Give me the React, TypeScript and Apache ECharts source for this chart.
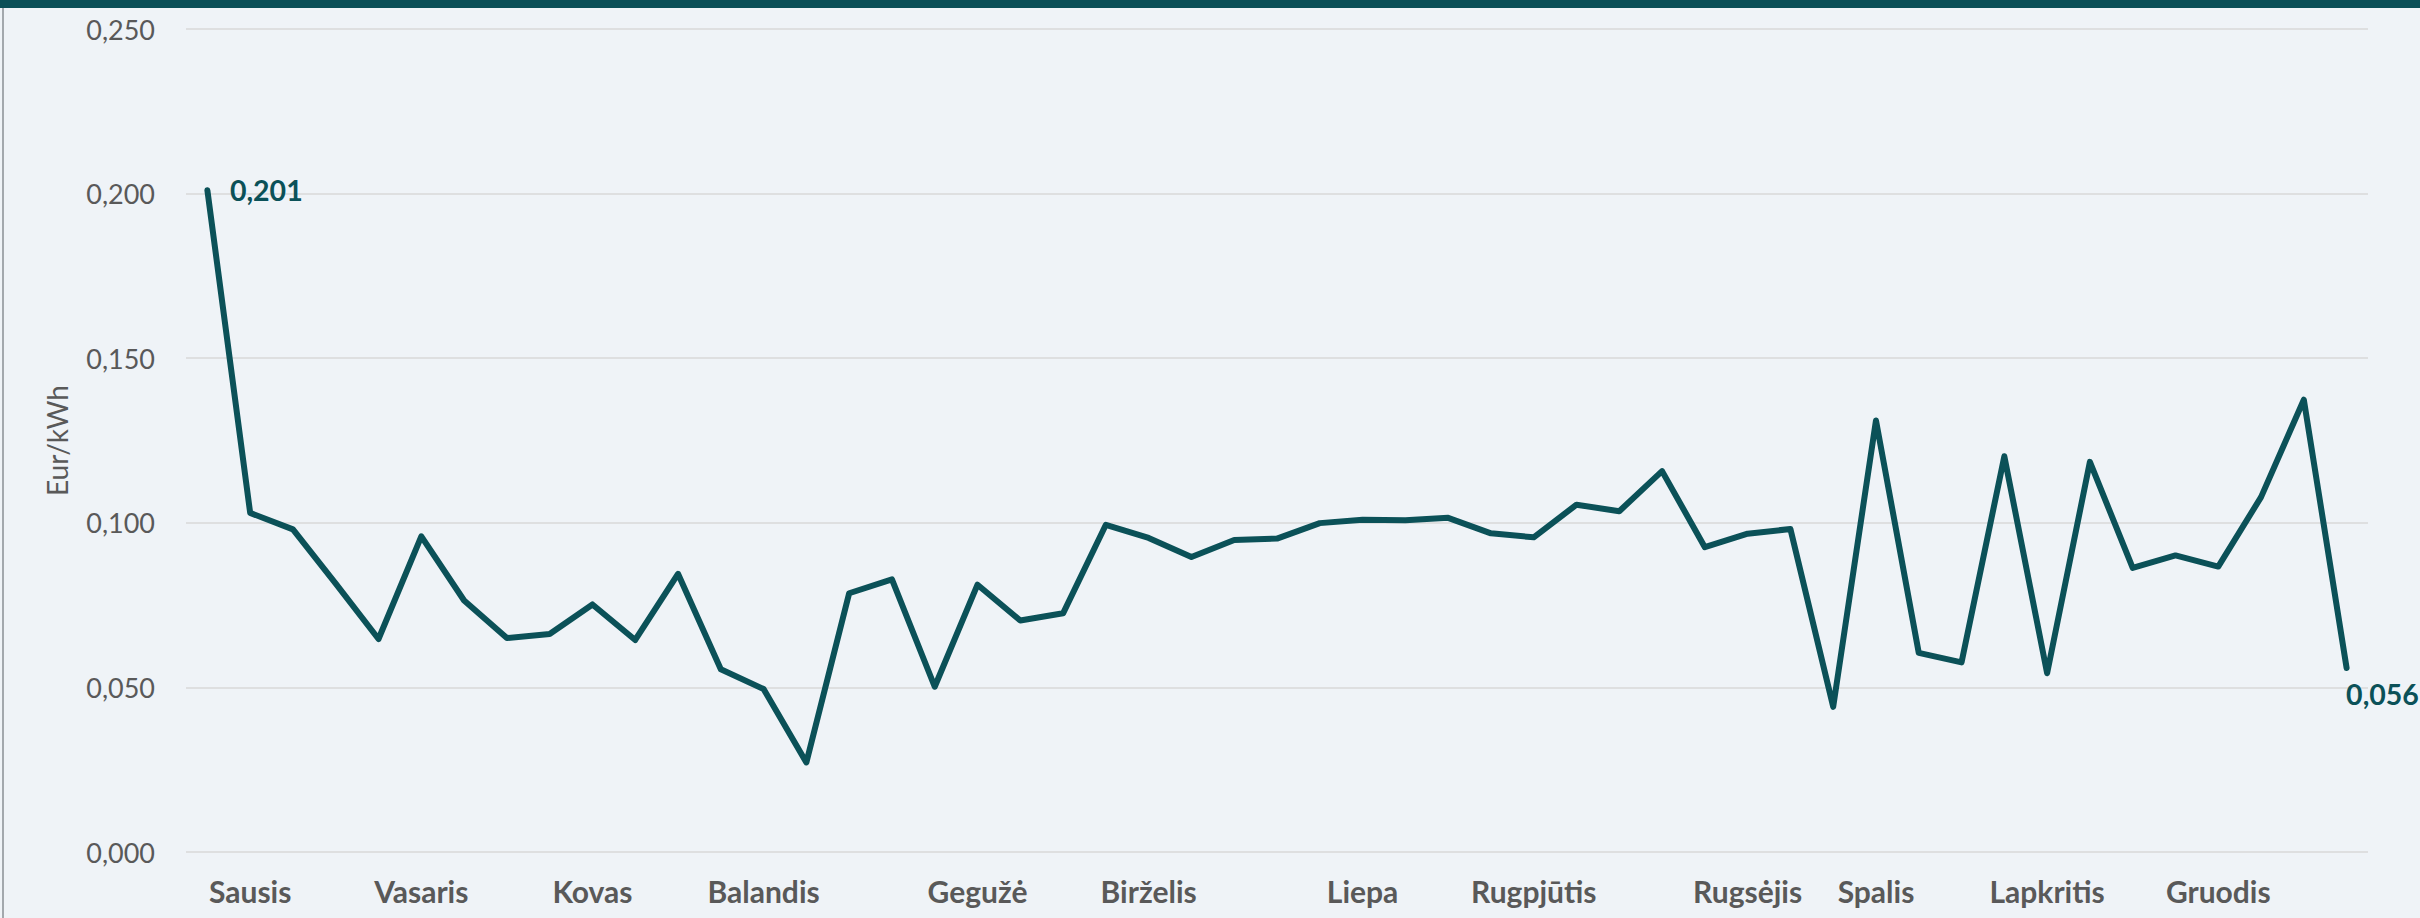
import React, { useEffect, useRef } from "react";
import * as echarts from "echarts";

// Weekly average price, Eur/kWh (51 weeks)
const values: number[] = [
  0.201, 0.103, 0.098, 0.0815, 0.0647, 0.0959, 0.0764, 0.065, 0.0662, 0.0752,
  0.0644, 0.0845, 0.0555, 0.0495, 0.0272, 0.0786, 0.0828, 0.0502, 0.0812, 0.0703,
  0.0725, 0.0994, 0.0954, 0.0896, 0.0948, 0.0952, 0.0999, 0.1009, 0.1008, 0.1015,
  0.0968, 0.0956, 0.1055, 0.1035, 0.1157, 0.0926, 0.0967, 0.0981, 0.0441, 0.1311,
  0.0605, 0.0576, 0.1202, 0.0543, 0.1185, 0.0863, 0.0901, 0.0867, 0.1078, 0.1374,
  0.0559,
];

// Month tick labels and the week index where each is written
const monthLabels: string[] = [
  "Sausis", "Vasaris", "Kovas", "Balandis", "Gegužė", "Birželis",
  "Liepa", "Rugpjūtis", "Rugsėjis", "Spalis", "Lapkritis", "Gruodis",
];
const monthIndex: number[] = [1, 5, 9, 13, 18, 22, 27, 31, 36, 39, 43, 47];

// y-axis ticks
const yMin = 0;
const yMax = 0.25;
const yStep = 0.05;

// points that carry a value label
const labelledFirst = 0;
const labelledLast = values.length - 1;

const TEAL = "#0b5158";
const GREY = "#595959";

const fmt = (v: number) => v.toFixed(3).replace(".", ",");

export default function App() {
  const ref = useRef<HTMLDivElement>(null);

  useEffect(() => {
    if (!ref.current) return;
    const chart = echarts.init(ref.current, undefined, { renderer: "svg" });

    const categories = values.map((_, i) => {
      const k = monthIndex.indexOf(i);
      return k >= 0 ? monthLabels[k] : "";
    });

    const labelBase = {
      show: true,
      fontFamily: "Lato",
      fontWeight: "bold" as const,
      fontSize: 28.5,
      color: TEAL,
      formatter: (p: any) => fmt(p.value as number),
    };

    const seriesData = values.map((v, i) => {
      if (i === labelledFirst) {
        return { value: v, label: { ...labelBase, position: "right", distance: 22 } };
      }
      if (i === labelledLast) {
        return { value: v, label: { ...labelBase, position: [0, 12] } };
      }
      return v;
    });

    chart.setOption({
      animation: false,
      backgroundColor: "#eff3f7",
      grid: { left: 186, right: 52, top: 29, bottom: 66, containLabel: false },
      xAxis: {
        type: "category",
        data: categories,
        boundaryGap: true,
        axisLine: { show: false },
        axisTick: { show: false },
        splitLine: { show: false },
        axisLabel: {
          interval: 0,
          margin: 24,
          fontFamily: "Lato",
          fontWeight: "bold",
          fontSize: 30,
          color: GREY,
        },
      },
      yAxis: {
        type: "value",
        min: yMin,
        max: yMax,
        interval: yStep,
        name: "Eur/kWh",
        nameLocation: "middle",
        nameGap: 115,
        nameTextStyle: { fontFamily: "Lato", fontSize: 28, color: GREY },
        axisLine: { show: false },
        axisTick: { show: false },
        axisLabel: {
          margin: 31,
          fontFamily: "Lato",
          fontSize: 27,
          color: GREY,
          formatter: (v: number) => fmt(v),
        },
        splitLine: { lineStyle: { color: "#d9d9d9", width: 1.5 } },
      },
      series: [
        {
          type: "line",
          data: seriesData,
          showSymbol: true,
          symbol: "circle",
          symbolSize: 1,
          itemStyle: { color: TEAL },
          lineStyle: { color: TEAL, width: 6, join: "round", cap: "round" },
          label: { show: false },
          emphasis: { disabled: true },
        },
      ],
      graphic: [
        {
          type: "rect",
          shape: { x: 0, y: 0, width: 2420, height: 8 },
          style: { fill: "#0a4f57" },
          silent: true,
        },
        {
          type: "rect",
          shape: { x: 2, y: 8, width: 2, height: 910 },
          style: { fill: "#a3a8ad" },
          silent: true,
        },
      ],
    });

    return () => chart.dispose();
  }, []);

  return (
    <div
      ref={ref}
      style={{ position: "fixed", left: 0, top: 0, width: 2420, height: 918 }}
    />
  );
}
